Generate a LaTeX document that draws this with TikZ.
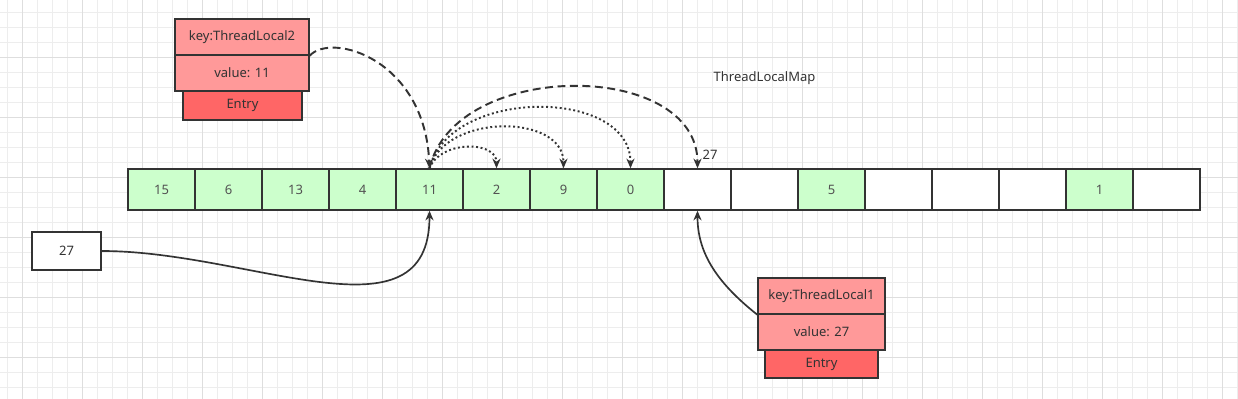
\documentclass[tikz,border=0pt]{standalone}
\usepackage{fontspec}
\setmainfont{Noto Sans}
\usetikzlibrary{arrows.meta}

\definecolor{inkgrey}{HTML}{333333}
\definecolor{slotgreen}{HTML}{CCFFCC}
\definecolor{entrypink}{HTML}{FF9999}
\definecolor{entryred}{HTML}{FF6666}
\definecolor{gridminor}{HTML}{EDEDED}
\definecolor{gridmajor}{HTML}{DEDEDE}

\begin{document}
\begin{tikzpicture}[font=\fontsize{7.4}{8.8}\selectfont,
  cell/.style={draw=inkgrey,line width=.8pt,minimum width=1.34cm,minimum height=.82cm,inner sep=0pt,text=inkgrey!85},
  used/.style={cell,fill=slotgreen},
  free/.style={cell,fill=white},
  field/.style={draw=inkgrey,line width=.8pt,fill=entrypink,minimum height=.72cm,inner sep=0pt,text=inkgrey},
  entrytag/.style={draw=inkgrey,line width=.8pt,fill=entryred,inner sep=0pt,text=inkgrey},
  solidarrow/.style={draw=inkgrey,line width=.95pt,-{Stealth[length=5.5pt,width=4.6pt]}},
  dasharrow/.style={draw=inkgrey,line width=1.1pt,dash pattern=on 4.5pt off 2.6pt,-{Stealth[length=5.5pt,width=4.6pt]}},
  dotarrow/.style={draw=inkgrey,line width=1.1pt,dash pattern=on 1.1pt off 1.5pt,-{Stealth[length=5.5pt,width=4.6pt]}}]
\useasboundingbox (0,0) rectangle (24.76,7.96);
\fill[white] (0,0) rectangle (24.76,7.96);
% background grid
\begin{scope}
\clip (0,0) rectangle (24.76,7.96);
\draw[gridminor,line width=.5pt,shift={(0.146,0.214)}] (-0.3,-0.3) grid[step=0.3] (24.9,8.1);
\draw[gridmajor,line width=.6pt,shift={(0.446,0.814)}] (-1.2,-1.2) grid[step=1.2] (24.6,7.4);
\end{scope}
% the table
\node[used] (s0) at (3.23,4.17) {15};
\node[used] (s1) at (4.57,4.17) {6};
\node[used] (s2) at (5.91,4.17) {13};
\node[used] (s3) at (7.25,4.17) {4};
\node[used] (s4) at (8.59,4.17) {11};
\node[used] (s5) at (9.93,4.17) {2};
\node[used] (s6) at (11.27,4.17) {9};
\node[used] (s7) at (12.61,4.17) {0};
\node[free] (s8) at (13.95,4.17) {};
\node[free] (s9) at (15.29,4.17) {};
\node[used] (s10) at (16.63,4.17) {5};
\node[free] (s11) at (17.97,4.17) {};
\node[free] (s12) at (19.31,4.17) {};
\node[free] (s13) at (20.65,4.17) {};
\node[used] (s14) at (21.99,4.17) {1};
\node[free] (s15) at (23.33,4.17) {};
\node[text=inkgrey] (maplabel) at (15.29,6.40) {ThreadLocalMap};
\node[text=inkgrey,inner sep=1pt] (hashlabel) at (14.2,4.86) {27};
% entry of ThreadLocal2
\node[field,minimum width=2.68cm] (tlkey2) at (4.84,7.22) {key:ThreadLocal2};
\node[field,minimum width=2.68cm] (tlval2) at (4.84,6.50) {value: 11};
\node[entrytag,minimum width=2.38cm,minimum height=.58cm] (tlentry2) at (4.85,5.85) {Entry};
% entry of ThreadLocal1
\node[field,minimum width=2.54cm] (tlkey1) at (16.43,2.04) {key:ThreadLocal1};
\node[field,minimum width=2.54cm] (tlval1) at (16.43,1.32) {value: 27};
\node[entrytag,minimum width=2.26cm,minimum height=.56cm] (tlentry1) at (16.43,0.68) {Entry};
% hash of the new key
\node[draw=inkgrey,line width=.8pt,fill=white,minimum width=1.38cm,minimum height=.76cm,inner sep=0pt,text=inkgrey] (newkey) at (1.33,2.94) {27};
% connectors
\draw[solidarrow] (newkey.east) .. controls +(2.98,0) and +(0,-2.7) .. (s4.south);
\draw[solidarrow] (tlkey1.south west) .. controls +(-0.86,0.68) and +(0,-0.8) .. (s8.south);
\draw[dasharrow] (tlkey2.south east) .. controls +(0.44,0.48) and +(-0.09,2.18) .. (s4.north);
\draw[dotarrow] (s4.north) .. controls +(0.21,0.56) and +(0,0.56) .. (s5.north);
\draw[dotarrow] (s4.north) .. controls +(0.3,1.1) and +(0,1.1) .. (s6.north);
\draw[dotarrow] (s4.north) .. controls +(0.4,1.62) and +(0,1.62) .. (s7.north);
\draw[dasharrow] (s4.north) .. controls +(0.5,2.18) and +(0,2.18) .. (s8.north);
\end{tikzpicture}
\end{document}
